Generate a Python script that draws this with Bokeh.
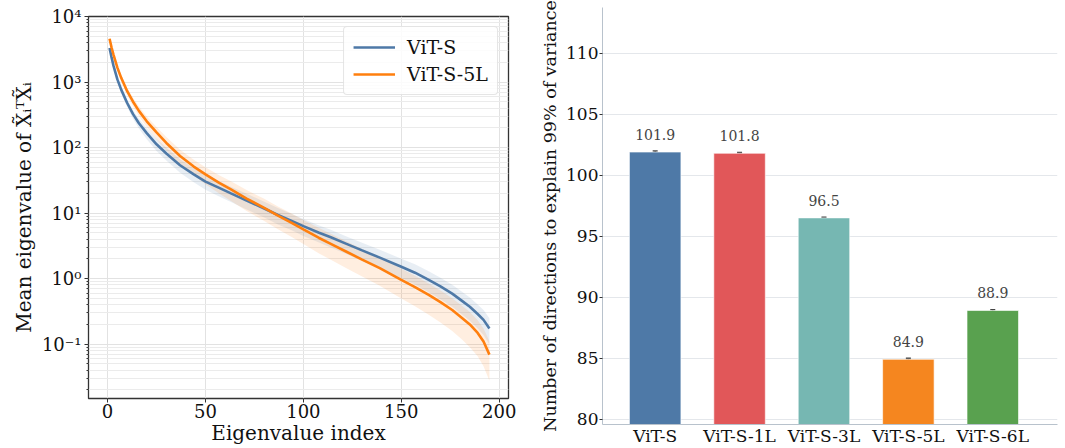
import numpy as np
from bokeh.plotting import figure
from bokeh.layouts import row
from bokeh.models import (Range1d, FixedTicker, CustomJSTickFormatter, Whisker,
                          ColumnDataSource, TeeHead)
from bokeh.core.properties import value
from bokeh.embed import file_html
from bokeh.resources import INLINE

# ---------------- data: left panel (eigen-spectrum, values read as log10) ----------------
eig_index = [1, 2, 3, 5, 7, 10, 13, 16, 20, 25, 30, 37, 44, 50, 57, 63, 71, 80, 87, 94,
             100, 108, 114, 122, 130, 139, 150, 157, 164, 170, 176, 181, 185, 189, 192, 195]
log10_eig_vit_s = [3.52, 3.38, 3.25, 3.04, 2.88, 2.68, 2.51, 2.37, 2.22, 2.05,
                   1.91, 1.73, 1.59, 1.48, 1.385, 1.30, 1.19, 1.07, 0.97, 0.88,
                   0.80, 0.70, 0.63, 0.53, 0.43, 0.32, 0.18, 0.09, -0.02, -0.12,
                   -0.23, -0.34, -0.43, -0.54, -0.63, -0.76]
log10_eig_vit_s_5l = [3.66, 3.53, 3.42, 3.22, 3.06, 2.86, 2.70, 2.56, 2.40, 2.23,
                      2.07, 1.87, 1.71, 1.59, 1.46, 1.36, 1.22, 1.08, 0.96, 0.85,
                      0.75, 0.62, 0.53, 0.41, 0.29, 0.16, -0.02, -0.13, -0.25, -0.36,
                      -0.48, -0.60, -0.70, -0.83, -0.96, -1.16]
rel_sd_vit_s = [0.05, 0.06, 0.07, 0.09, 0.11, 0.13, 0.15, 0.17, 0.19, 0.21,
                0.22, 0.23, 0.24, 0.25, 0.26, 0.26, 0.27, 0.27, 0.28, 0.28,
                0.29, 0.29, 0.30, 0.30, 0.31, 0.32, 0.33, 0.34, 0.35, 0.36,
                0.37, 0.38, 0.39, 0.40, 0.41, 0.43]
rel_sd_vit_s_5l = [0.05, 0.06, 0.07, 0.09, 0.11, 0.13, 0.15, 0.17, 0.19, 0.21,
                   0.23, 0.25, 0.27, 0.29, 0.31, 0.33, 0.35, 0.37, 0.38, 0.39,
                   0.40, 0.42, 0.43, 0.44, 0.45, 0.46, 0.48, 0.49, 0.50, 0.51,
                   0.52, 0.53, 0.55, 0.56, 0.58, 0.60]
x_ticks_left = [0, 50, 100, 150, 200]

# ---------------- data: right panel (bars) ----------------
models = ["ViT-S", "ViT-S-1L", "ViT-S-3L", "ViT-S-5L", "ViT-S-6L"]
directions = [101.9, 101.8, 96.5, 84.9, 88.9]
directions_err = [0.08, 0.06, 0.06, 0.08, 0.07]
y_ticks_right = [80, 85, 90, 95, 100, 105, 110]

SERIF = "DejaVu Serif"
BLUE = "#4e79a7"
ORANGE = "#ff7f0e"
bar_colors = ["#4e79a7", "#e15759", "#76b7b2", "#f5861f", "#59a14f"]

# ================= left figure =================
p1 = figure(width=528, height=448, output_backend="svg", toolbar_location=None,
            y_axis_type="log", x_range=Range1d(-9.75, 204.75),
            y_range=Range1d(10 ** -1.83, 1e4),
            min_border_left=88, min_border_right=20, min_border_top=16, min_border_bottom=50)
p1.background_fill_color = "white"
p1.border_fill_color = "white"
p1.outline_line_color = "#333333"
p1.outline_line_width = 1.3

series = [(log10_eig_vit_s, rel_sd_vit_s, BLUE, "ViT-S"),
          (log10_eig_vit_s_5l, rel_sd_vit_s_5l, ORANGE, "ViT-S-5L")]
for lg10, sd, col, lab in series:
    m = 10.0 ** np.array(lg10)
    s = np.array(sd)
    p1.varea(x=eig_index, y1=m * (1 - s), y2=m * (1 + s), fill_color=col, fill_alpha=0.13)
for lg10, sd, col, lab in series:
    p1.line(x=eig_index, y=10.0 ** np.array(lg10), line_color=col, line_width=2.6,
            legend_label=lab)

p1.xaxis.ticker = FixedTicker(ticks=x_ticks_left)
minor = [mm * 10.0 ** e for e in range(-2, 4) for mm in range(2, 10)]
p1.yaxis.ticker = FixedTicker(ticks=[0.1, 1, 10, 100, 1000, 10000], minor_ticks=minor)
p1.yaxis.formatter = CustomJSTickFormatter(code="""
const e = Math.round(Math.log10(tick));
const m = {"-":"\u207b","0":"\u2070","1":"\u00b9","2":"\u00b2","3":"\u00b3","4":"\u2074",
           "5":"\u2075","6":"\u2076","7":"\u2077","8":"\u2078","9":"\u2079"};
return "10" + String(e).split("").map(c => m[c]).join("");
""")

for ax in (p1.xaxis[0], p1.yaxis[0]):
    ax.axis_line_color = None
    ax.major_tick_line_color = "#333333"
    ax.major_tick_out = 4
    ax.major_tick_in = 0
    ax.major_label_text_font = SERIF
    ax.major_label_text_font_size = "18px"
    ax.major_label_text_color = "#111111"
    ax.axis_label_text_font = SERIF
    ax.axis_label_text_font_style = "normal"
    ax.axis_label_text_font_size = "20px"
    ax.axis_label_text_color = "#111111"
p1.xaxis.major_label_standoff = 1
p1.xaxis.axis_label_standoff = 0
p1.yaxis.major_label_standoff = 3
p1.yaxis.axis_label_standoff = 3
p1.xaxis.minor_tick_line_color = None
p1.yaxis.minor_tick_line_color = "#333333"
p1.yaxis.minor_tick_out = 2
p1.yaxis.minor_tick_in = 0
p1.xaxis.axis_label = "Eigenvalue index"
p1.yaxis.axis_label = "Mean eigenvalue of X\u0303\u1d62\u1d40X\u0303\u1d62"

p1.xgrid.grid_line_color = "#e2e2e2"
p1.ygrid.grid_line_color = "#e2e2e2"
p1.ygrid.minor_grid_line_color = "#ebebeb"

lg = p1.legend[0]
lg.location = "top_right"
lg.label_text_font = SERIF
lg.label_text_font_size = "19px"
lg.label_text_color = "#111111"
lg.glyph_width = 42
lg.glyph_height = 20
lg.label_standoff = 12
lg.spacing = 5
lg.padding = 9
lg.margin = 10
lg.border_line_color = "#cccccc"
lg.border_line_width = 1
lg.background_fill_alpha = 0.85
if hasattr(lg, "border_radius"):
    lg.border_radius = 4

# ================= right figure =================
xs = list(range(len(models)))
p2 = figure(width=537, height=448, output_backend="svg", toolbar_location=None,
            x_range=Range1d(-0.624, 4.767), y_range=Range1d(79.55, 113.76),
            min_border_left=74, min_border_right=8, min_border_top=7, min_border_bottom=9)
p2.outline_line_color = None
p2.background_fill_color = "white"
p2.border_fill_color = "white"

for p in (p1, p2):
    if hasattr(p, "frame_align"):
        p.frame_align = False

p2.vbar(x=xs, top=directions, bottom=0, width=0.61, fill_color=bar_colors,
        line_color="white", line_alpha=0.6, line_width=1)

src = ColumnDataSource(dict(x=xs,
                            lower=[v - e for v, e in zip(directions, directions_err)],
                            upper=[v + e for v, e in zip(directions, directions_err)]))
p2.add_layout(Whisker(base="x", lower="lower", upper="upper", source=src,
                      line_color="#444444", line_width=1.5,
                      upper_head=TeeHead(size=5, line_color="#444444", line_width=1.5),
                      lower_head=TeeHead(size=5, line_color="#444444", line_width=1.5)))

p2.text(x=xs, y=[v + 1.45 for v in directions], text=[f"{v:.1f}" for v in directions],
        text_align="center", text_baseline="middle", text_font=value(SERIF),
        text_font_size="14px", text_color="#444444")

p2.xaxis.ticker = FixedTicker(ticks=xs)
p2.xaxis.major_label_overrides = {i: m for i, m in zip(xs, models)}
p2.yaxis.ticker = FixedTicker(ticks=y_ticks_right)
p2.yaxis.axis_label = "Number of directions to explain 99% of variance"

for ax in (p2.xaxis[0], p2.yaxis[0]):
    ax.major_label_text_font = SERIF
    ax.major_label_text_font_size = "17px"
    ax.major_label_text_color = "#111111"
    ax.axis_label_text_font = SERIF
    ax.axis_label_text_font_style = "normal"
    ax.axis_label_text_font_size = "17.5px"
    ax.axis_label_text_color = "#111111"
    ax.minor_tick_line_color = None
    ax.axis_line_color = "#b8c2cc"
    ax.axis_line_width = 1
p2.xaxis.major_tick_line_color = None
p2.xaxis.major_tick_out = 0
p2.xaxis.major_label_standoff = 1
p2.yaxis.major_tick_line_color = "#333333"
p2.yaxis.major_tick_out = 3
p2.yaxis.major_tick_in = 0
p2.yaxis.major_label_standoff = 1
p2.yaxis.axis_label_standoff = 3
p2.xgrid.grid_line_color = None
p2.ygrid.grid_line_color = "#e4e7eb"

layout = row(p1, p2)
open("out.html", "w").write(file_html(layout, INLINE))
